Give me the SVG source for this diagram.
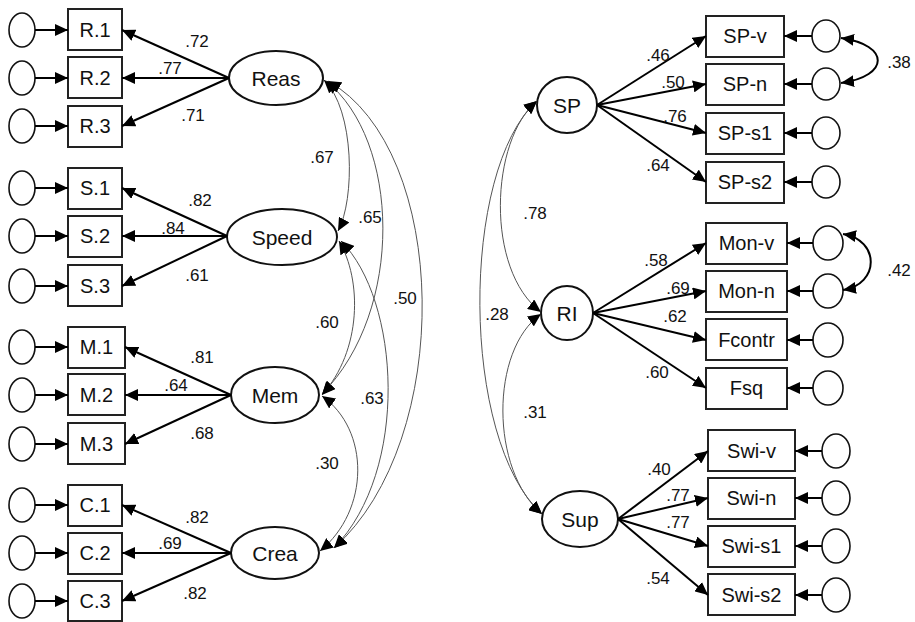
<svg xmlns="http://www.w3.org/2000/svg" width="915" height="622" viewBox="0 0 915 622">
<defs>
<marker id="ah" markerUnits="userSpaceOnUse" markerWidth="14" markerHeight="12" refX="13" refY="6" orient="auto-start-reverse"><path d="M0,0 L13,6 L0,12 Z" fill="#000"/></marker>
<style>
.box{fill:#fff;stroke:#222;stroke-width:2}
.lat{fill:#fff;stroke:#111;stroke-width:2}
.err{fill:#fff;stroke:#111;stroke-width:1.6}
.ld{stroke:#000;stroke-width:2;fill:none;marker-end:url(#ah)}
.cv{stroke:#555;stroke-width:1;fill:none;marker-start:url(#ah);marker-end:url(#ah)}
.cv2{stroke:#000;stroke-width:2;fill:none;marker-start:url(#ah);marker-end:url(#ah)}
text{font-family:"Liberation Sans",Arial,sans-serif;fill:#111}
.bt{font-size:20px;text-anchor:middle;dominant-baseline:central}
.lt{font-size:21px;text-anchor:middle;dominant-baseline:central}
.nt{font-size:17px;text-anchor:middle;dominant-baseline:central}
</style>
</defs>

<g id="Reas-group">
<g id="eR1"><ellipse class="err" cx="22" cy="30" rx="13" ry="17"/></g>
<g id="eR2"><ellipse class="err" cx="22" cy="78" rx="13" ry="17"/></g>
<g id="eR3"><ellipse class="err" cx="22" cy="126" rx="13" ry="17"/></g>
<g id="R1"><rect class="box" x="68" y="9" width="54" height="41"/><text class="bt" x="95" y="30">R.1</text></g>
<g id="R2"><rect class="box" x="68" y="57" width="54" height="41"/><text class="bt" x="95" y="78">R.2</text></g>
<g id="R3"><rect class="box" x="68" y="106" width="54" height="41"/><text class="bt" x="95" y="126">R.3</text></g>
<g id="Reas"><ellipse class="lat" cx="276" cy="78" rx="47" ry="27"/><text class="lt" x="276" y="78">Reas</text></g>
</g>

<g id="Speed-group">
<g id="eS1"><ellipse class="err" cx="22" cy="188" rx="13" ry="17"/></g>
<g id="eS2"><ellipse class="err" cx="22" cy="236" rx="13" ry="17"/></g>
<g id="eS3"><ellipse class="err" cx="22" cy="286" rx="13" ry="17"/></g>
<g id="S1"><rect class="box" x="68" y="168" width="54" height="41"/><text class="bt" x="95" y="188">S.1</text></g>
<g id="S2"><rect class="box" x="68" y="216" width="54" height="41"/><text class="bt" x="95" y="236">S.2</text></g>
<g id="S3"><rect class="box" x="68" y="265" width="54" height="41"/><text class="bt" x="95" y="286">S.3</text></g>
<g id="Speed"><ellipse class="lat" cx="282" cy="237" rx="55" ry="28"/><text class="lt" x="282" y="237">Speed</text></g>
</g>

<g id="Mem-group">
<g id="eM1"><ellipse class="err" cx="22" cy="347" rx="13" ry="17"/></g>
<g id="eM2"><ellipse class="err" cx="22" cy="395" rx="13" ry="17"/></g>
<g id="eM3"><ellipse class="err" cx="22" cy="444" rx="13" ry="17"/></g>
<g id="M1"><rect class="box" x="68" y="327" width="57" height="41"/><text class="bt" x="96.5" y="347">M.1</text></g>
<g id="M2"><rect class="box" x="68" y="374" width="57" height="41"/><text class="bt" x="96.5" y="395">M.2</text></g>
<g id="M3"><rect class="box" x="68" y="423" width="57" height="41"/><text class="bt" x="96.5" y="444">M.3</text></g>
<g id="Mem"><ellipse class="lat" cx="275" cy="395" rx="44" ry="28"/><text class="lt" x="275" y="395">Mem</text></g>
</g>

<g id="Crea-group">
<g id="eC1"><ellipse class="err" cx="22" cy="505" rx="13" ry="17"/></g>
<g id="eC2"><ellipse class="err" cx="22" cy="553" rx="13" ry="17"/></g>
<g id="eC3"><ellipse class="err" cx="22" cy="601" rx="13" ry="17"/></g>
<g id="C1"><rect class="box" x="68" y="485" width="54" height="41"/><text class="bt" x="95" y="505">C.1</text></g>
<g id="C2"><rect class="box" x="68" y="533" width="54" height="41"/><text class="bt" x="95" y="553">C.2</text></g>
<g id="C3"><rect class="box" x="68" y="581" width="54" height="40"/><text class="bt" x="95" y="601">C.3</text></g>
<g id="Crea"><ellipse class="lat" cx="275" cy="553" rx="44" ry="26"/><text class="lt" x="275" y="553">Crea</text></g>
</g>

<g id="SP-group">
<g id="SP"><ellipse class="lat" cx="567" cy="105" rx="30" ry="28"/><text class="lt" x="567" y="105">SP</text></g>
<g id="SPv"><rect class="box" x="706" y="16" width="78" height="41"/><text class="bt" x="745" y="36">SP-v</text></g>
<g id="SPn"><rect class="box" x="706" y="64" width="78" height="41"/><text class="bt" x="745" y="84">SP-n</text></g>
<g id="SPs1"><rect class="box" x="706" y="113" width="78" height="41"/><text class="bt" x="745" y="133">SP-s1</text></g>
<g id="SPs2"><rect class="box" x="706" y="162" width="78" height="41"/><text class="bt" x="745" y="182">SP-s2</text></g>
<g id="eSPv"><ellipse class="err" cx="826" cy="36" rx="14" ry="16"/></g>
<g id="eSPn"><ellipse class="err" cx="826" cy="84" rx="14" ry="16"/></g>
<g id="eSPs1"><ellipse class="err" cx="826" cy="133" rx="14" ry="16"/></g>
<g id="eSPs2"><ellipse class="err" cx="826" cy="182" rx="14" ry="16"/></g>
</g>

<g id="RI-group">
<g id="RI"><ellipse class="lat" cx="567" cy="313" rx="26" ry="27"/><text class="lt" x="567" y="313">RI</text></g>
<g id="Monv"><rect class="box" x="706" y="223" width="81" height="41"/><text class="bt" x="746.5" y="243">Mon-v</text></g>
<g id="Monn"><rect class="box" x="706" y="271" width="81" height="41"/><text class="bt" x="746.5" y="291">Mon-n</text></g>
<g id="Fcontr"><rect class="box" x="706" y="319" width="81" height="41"/><text class="bt" x="746.5" y="340">Fcontr</text></g>
<g id="Fsq"><rect class="box" x="706" y="368" width="81" height="41"/><text class="bt" x="746.5" y="388">Fsq</text></g>
<g id="eMonv"><ellipse class="err" cx="828" cy="243" rx="15" ry="17"/></g>
<g id="eMonn"><ellipse class="err" cx="828" cy="291" rx="15" ry="17"/></g>
<g id="eFcontr"><ellipse class="err" cx="828" cy="340" rx="15" ry="17"/></g>
<g id="eFsq"><ellipse class="err" cx="828" cy="388" rx="15" ry="17"/></g>
</g>

<g id="Sup-group">
<g id="Sup"><ellipse class="lat" cx="580" cy="519" rx="38" ry="28"/><text class="lt" x="580" y="519">Sup</text></g>
<g id="Swiv"><rect class="box" x="708" y="430" width="87" height="41"/><text class="bt" x="751.5" y="451">Swi-v</text></g>
<g id="Swin"><rect class="box" x="708" y="478" width="87" height="41"/><text class="bt" x="751.5" y="498">Swi-n</text></g>
<g id="Swis1"><rect class="box" x="708" y="526" width="87" height="41"/><text class="bt" x="751.5" y="546">Swi-s1</text></g>
<g id="Swis2"><rect class="box" x="708" y="574" width="87" height="41"/><text class="bt" x="751.5" y="595">Swi-s2</text></g>
<g id="eSwiv"><ellipse class="err" cx="836" cy="451" rx="14" ry="17"/></g>
<g id="eSwin"><ellipse class="err" cx="836" cy="498" rx="14" ry="17"/></g>
<g id="eSwis1"><ellipse class="err" cx="836" cy="546" rx="14" ry="17"/></g>
<g id="eSwis2"><ellipse class="err" cx="836" cy="595" rx="14" ry="17"/></g>
</g>

<g id="connectors">
<!-- error arrows left -->
<path class="ld" d="M35,30 H68"/><path class="ld" d="M35,78 H68"/><path class="ld" d="M35,126 H68"/>
<path class="ld" d="M35,188 H68"/><path class="ld" d="M35,236 H68"/><path class="ld" d="M35,286 H68"/>
<path class="ld" d="M35,347 H68"/><path class="ld" d="M35,395 H68"/><path class="ld" d="M35,444 H68"/>
<path class="ld" d="M35,505 H68"/><path class="ld" d="M35,553 H68"/><path class="ld" d="M35,601 H68"/>
<!-- loadings left -->
<path class="ld" d="M229,78 L122,30"/><path class="ld" d="M229,78 L122,78"/><path class="ld" d="M229,78 L122,126"/>
<path class="ld" d="M227,236 L122,188"/><path class="ld" d="M227,236 L122,236"/><path class="ld" d="M227,236 L122,286"/>
<path class="ld" d="M231,395 L125,347"/><path class="ld" d="M231,395 L125,395"/><path class="ld" d="M231,395 L125,444"/>
<path class="ld" d="M231,553 L122,505"/><path class="ld" d="M231,553 L122,553"/><path class="ld" d="M231,553 L122,601"/>
<!-- loadings right -->
<path class="ld" d="M597,105 L706,36"/><path class="ld" d="M597,105 L706,84"/><path class="ld" d="M597,105 L706,133"/><path class="ld" d="M597,105 L706,182"/>
<path class="ld" d="M593,313 L706,243"/><path class="ld" d="M593,313 L706,291"/><path class="ld" d="M593,313 L706,340"/><path class="ld" d="M593,313 L706,388"/>
<path class="ld" d="M618,519 L708,451"/><path class="ld" d="M618,519 L708,498"/><path class="ld" d="M618,519 L708,546"/><path class="ld" d="M618,519 L708,595"/>
<!-- error arrows right -->
<path class="ld" d="M812,36 H784"/><path class="ld" d="M812,84 H784"/><path class="ld" d="M812,133 H784"/><path class="ld" d="M812,182 H784"/>
<path class="ld" d="M813,243 H787"/><path class="ld" d="M813,291 H787"/><path class="ld" d="M813,340 H787"/><path class="ld" d="M813,388 H787"/>
<path class="ld" d="M822,451 H795"/><path class="ld" d="M822,498 H795"/><path class="ld" d="M822,546 H795"/><path class="ld" d="M822,595 H795"/>
<!-- error covariances -->
<path class="cv2" d="M841,38 C890,45 890,76 841,83"/>
<path class="cv2" d="M843,234 C880,240 880,284 843,290"/>
<!-- factor correlations left -->
<path class="cv" d="M324,80 C355,110 355,200 338,231"/>
<path class="cv" d="M326,81 C400,140 405,310 322,394"/>
<path class="cv" d="M328,81 C450,150 455,440 334,548"/>
<path class="cv" d="M339,241 C362,280 362,350 322,395"/>
<path class="cv" d="M341,241 C400,300 410,470 334,548"/>
<path class="cv" d="M322,396 C370,430 370,510 320,551"/>
<!-- factor correlations right -->
<path class="cv" d="M537,101 C490,140 485,270 541,312"/>
<path class="cv" d="M537,101 C460,170 460,440 542,514"/>
<path class="cv" d="M541,314 C490,350 490,470 542,514"/>
</g>

<g id="labels">
<text class="nt" x="197" y="41">.72</text><text class="nt" x="170" y="68">.77</text><text class="nt" x="193" y="115">.71</text>
<text class="nt" x="200" y="200">.82</text><text class="nt" x="173" y="228">.84</text><text class="nt" x="197" y="275">.61</text>
<text class="nt" x="202" y="357">.81</text><text class="nt" x="176" y="385">.64</text><text class="nt" x="202" y="433">.68</text>
<text class="nt" x="197" y="517">.82</text><text class="nt" x="170" y="543">.69</text><text class="nt" x="195" y="593">.82</text>
<text class="nt" x="322" y="157">.67</text><text class="nt" x="370" y="217">.65</text><text class="nt" x="405" y="298">.50</text>
<text class="nt" x="327" y="322">.60</text><text class="nt" x="372" y="398">.63</text><text class="nt" x="327" y="463">.30</text>
<text class="nt" x="535" y="213">.78</text><text class="nt" x="497" y="314">.28</text><text class="nt" x="535" y="412">.31</text>
<text class="nt" x="658" y="55">.46</text><text class="nt" x="673" y="82">.50</text><text class="nt" x="675" y="116">.76</text><text class="nt" x="658" y="165">.64</text>
<text class="nt" x="656" y="260">.58</text><text class="nt" x="678" y="288">.69</text><text class="nt" x="675" y="316">.62</text><text class="nt" x="657" y="372">.60</text>
<text class="nt" x="659" y="469">.40</text><text class="nt" x="678" y="495">.77</text><text class="nt" x="678" y="522">.77</text><text class="nt" x="658" y="578">.54</text>
<text class="nt" x="899" y="62">.38</text><text class="nt" x="899" y="270">.42</text>
</g>
</svg>
